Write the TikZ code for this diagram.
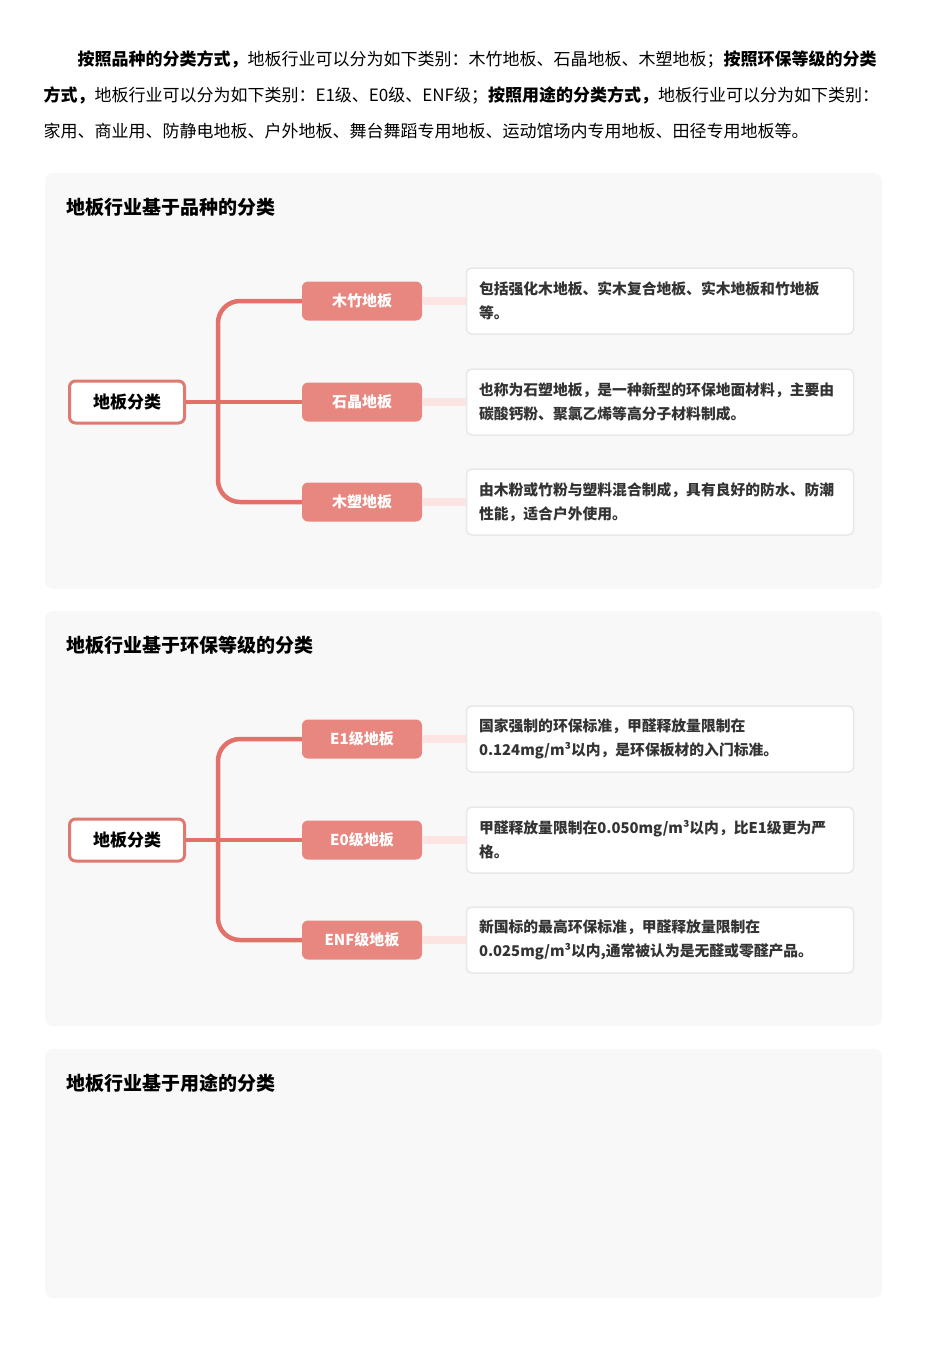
\documentclass[tikz,border=0pt]{standalone}
\usepackage{fontspec}
\setmainfont{Noto Sans CJK SC}
\begin{document}
\begin{tikzpicture}[x=1pt,y=-1pt,
 panel/.style={fill=panelbg,draw=none,rounded corners=8pt},
 root/.style={draw=rootc,line width=3pt,fill=white,rounded corners=6pt,minimum width=115pt,minimum height=42pt,font=\fontsize{17}{20}\selectfont\bfseries},
 child/.style={fill=childc,rounded corners=6pt,minimum width=120pt,minimum height=39pt,text=white,font=\fontsize{15}{18}\selectfont\bfseries},
 desc/.style={draw=descb,line width=1.5pt,fill=white,rounded corners=5pt,minimum width=387pt,minimum height=66pt,text width=362pt,align=left,font=\fontsize{14.8}{24}\selectfont\bfseries,text=txt},
 ttl/.style={anchor=west,font=\fontsize{19}{22}\selectfont\bfseries},
 br/.style={draw=linec,line width=4.5pt,rounded corners=22pt},
 lnk/.style={draw=linkc,line width=8pt}]
\definecolor{panelbg}{HTML}{F8F8F8}
\definecolor{rootc}{HTML}{E07A70}
\definecolor{childc}{HTML}{E8877F}
\definecolor{descb}{HTML}{E8E8E8}
\definecolor{txt}{HTML}{333333}
\definecolor{linec}{HTML}{E2716A}
\definecolor{linkc}{HTML}{FBE4E2}
\useasboundingbox (0,0) rectangle (950,1345);
\fill[white] (0,0) rectangle (950,1345);
\node[anchor=north west,align=left,font=\fontsize{17}{36}\selectfont] (intro) at (40,47)
 {\hspace*{34pt}\textbf{按照品种的分类方式，}地板行业可以分为如下类别：木竹地板、石晶地板、木塑地板；\textbf{按照环保等级的分类}\\\textbf{方式，}地板行业可以分为如下类别：E1级、E0级、ENF级；\textbf{按照用途的分类方式，}地板行业可以分为如下类别：\\家用、商业用、防静电地板、户外地板、舞台舞蹈专用地板、运动馆场内专用地板、田径专用地板等。};
% panels
\fill[panel] (45,173) rectangle (882,589);
\fill[panel] (45,611) rectangle (882,1026);
\fill[panel] (45,1049) rectangle (882,1298);
\node[ttl] (t1) at (63,207) {地板行业基于品种的分类};
\node[ttl] (t2) at (63,645) {地板行业基于环保等级的分类};
\node[ttl] (t3) at (63,1083) {地板行业基于用途的分类};
% tree 1
\node[desc] (d1) at (660,301) {包括强化木地板、实木复合地板、实木地板和竹地板\\等。};
\node[desc] (d2) at (660,402) {也称为石塑地板，是一种新型的环保地面材料，主要由\\碳酸钙粉、聚氯乙烯等高分子材料制成。};
\node[desc] (d3) at (660,502) {由木粉或竹粉与塑料混合制成，具有良好的防水、防潮\\性能，适合户外使用。};
\node[child] (c1) at (362,301) {木竹地板};
\node[child] (c2) at (362,402) {石晶地板};
\node[child] (c3) at (362,502) {木塑地板};
\node[root] (r1) at (127,402) {地板分类};
\draw[br] (r1.east) -- (c2.west);
\draw[br] (c1.west) -| (218,402) |- (c3.west);
\draw[lnk] (c1.east) -- (d1.west);
\draw[lnk] (c2.east) -- (d2.west);
\draw[lnk] (c3.east) -- (d3.west);
% tree 2
\node[desc] (e1) at (660,739) {国家强制的环保标准，甲醛释放量限制在\\0.124mg/m³以内，是环保板材的入门标准。};
\node[desc] (e2) at (660,840) {甲醛释放量限制在0.050mg/m³以内，比E1级更为严\\格。};
\node[desc] (e3) at (660,940) {新国标的最高环保标准，甲醛释放量限制在\\0.025mg/m³以内,通常被认为是无醛或零醛产品。};
\node[child] (k1) at (362,739) {E1级地板};
\node[child] (k2) at (362,840) {E0级地板};
\node[child] (k3) at (362,940) {ENF级地板};
\node[root] (r2) at (127,840) {地板分类};
\draw[br] (r2.east) -- (k2.west);
\draw[br] (k1.west) -| (218,840) |- (k3.west);
\draw[lnk] (k1.east) -- (e1.west);
\draw[lnk] (k2.east) -- (e2.west);
\draw[lnk] (k3.east) -- (e3.west);
\end{tikzpicture}
\end{document}
